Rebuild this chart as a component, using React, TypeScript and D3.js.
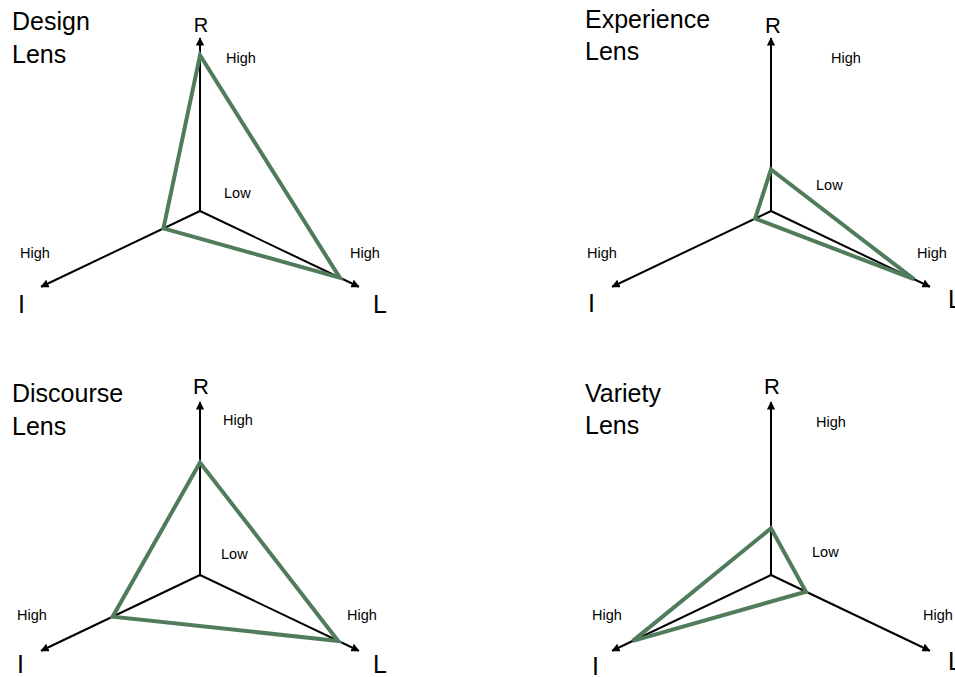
import React from "react";
import * as d3 from "d3";

const panelTitles: string[][] = [["Design", "Lens"], ["Experience", "Lens"], ["Discourse", "Lens"], ["Variety", "Lens"]];
const axisNames = ["R", "I", "L"];
const designValues = [0.9, 0.23, 0.88];
const experienceValues = [0.24, 0.1, 0.9];
const discourseValues = [0.65, 0.55, 0.87];
const varietyValues = [0.27, 0.87, 0.22];
const panelValues = [designValues, experienceValues, discourseValues, varietyValues];
const highLabel = "High";
const lowLabel = "Low";

const W = 955;
const H = 677;
const centers: [number, number][] = [[200, 211], [771, 211], [200, 575], [771, 575]];
const titlePos: [number, number, number][] = [[12, 30, 63], [585, 28, 60], [12, 402, 435], [585, 402, 434]];
const angles = [-90, 154.5, 25.5].map((a) => (a * Math.PI) / 180);
const axisLen = [173, 176, 176];
// per-panel label offsets: [R, highTop, low, highLeft, highRight, I, L]
const labelOffsets: [number, number][][] = [
  [[1, -179], [26, -148], [24, -13], [-180, 47], [150, 47], [-182, 102], [173, 102]],
  [[2, -178], [60, -148], [45, -21], [-184, 47], [146, 47], [-183, 101], [177, 97]],
  [[1, -181], [23, -150], [21, -16], [-183, 45], [147, 45], [-183, 98], [173, 98]],
  [[1, -181], [45, -148], [41, -18], [-179, 45], [152, 45], [-179, 100], [177, 95]],
];
const rSizes = [20, 22, 22, 22];
const green = "#517c5c";

export default function App() {
  const r = d3.scaleLinear().domain([0, 1]);
  return (
    <svg width={W} height={H} style={{ position: "absolute", left: 0, top: 0, background: "#fff" }}
      fontFamily="'Liberation Sans', Arial, Helvetica, sans-serif">
      <defs>
        <marker id="arr" viewBox="0 0 10 10" refX="9" refY="5" markerWidth="4.2" markerHeight="4.2" orient="auto" markerUnits="strokeWidth">
          <path d="M0,0 L10,5 L0,10 z" fill="#000" />
        </marker>
      </defs>
      {panelValues.map((vals, p) => {
        const [cx, cy] = centers[p];
        const pts: [number, number][] = vals.map((v, i) => {
          const len = r.range([0, axisLen[i]])(v);
          return [cx + len * Math.cos(angles[i]), cy + len * Math.sin(angles[i])];
        });
        const line = d3.line().curve(d3.curveLinearClosed);
        const lo = labelOffsets[p];
        const [tx, ty1, ty2] = titlePos[p];
        return (
          <g key={p}>
            <text x={tx} y={ty1} fontSize={25}>{panelTitles[p][0]}</text>
            <text x={tx} y={ty2} fontSize={25}>{panelTitles[p][1]}</text>
            {axisNames.map((n, i) => (
              <line key={n} x1={cx} y1={cy}
                x2={cx + axisLen[i] * Math.cos(angles[i])} y2={cy + axisLen[i] * Math.sin(angles[i])}
                stroke="#000" strokeWidth={2} markerEnd="url(#arr)" />
            ))}
            <path d={line(pts) || ""} fill="none" stroke={green} strokeWidth={4} strokeLinejoin="miter" />
            <text x={cx + lo[0][0]} y={cy + lo[0][1]} fontSize={rSizes[p]} textAnchor="middle">{axisNames[0]}</text>
            <text x={cx + lo[1][0]} y={cy + lo[1][1]} fontSize={14.5}>{highLabel}</text>
            <text x={cx + lo[2][0]} y={cy + lo[2][1]} fontSize={14.5}>{lowLabel}</text>
            <text x={cx + lo[3][0]} y={cy + lo[3][1]} fontSize={14.5}>{highLabel}</text>
            <text x={cx + lo[4][0]} y={cy + lo[4][1]} fontSize={14.5}>{highLabel}</text>
            <text x={cx + lo[5][0]} y={cy + lo[5][1]} fontSize={25}>{axisNames[1]}</text>
            <text x={cx + lo[6][0]} y={cy + lo[6][1]} fontSize={25}>{axisNames[2]}</text>
          </g>
        );
      })}
    </svg>
  );
}
